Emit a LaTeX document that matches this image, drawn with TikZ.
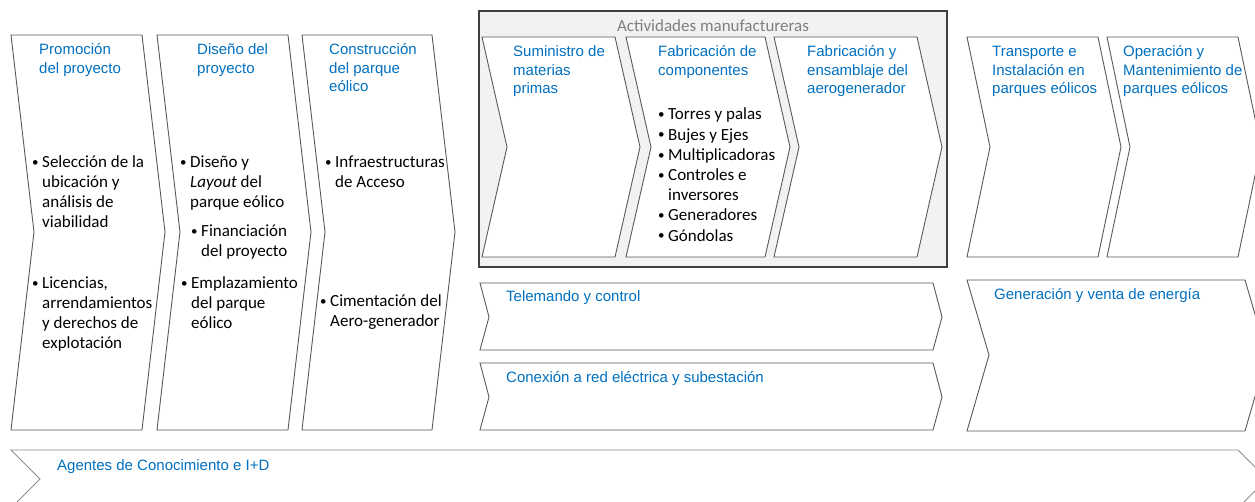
\documentclass[tikz,border=0pt]{standalone}
\usepackage{fontspec}
\newfontfamily\calfont{Carlito}
\newfontfamily\arfont{Liberation Sans}
\definecolor{hblue}{HTML}{0070C0}
\definecolor{lnc}{HTML}{595959}
\definecolor{boxfill}{HTML}{F2F2F2}
\definecolor{boxline}{HTML}{3F3F3F}
\definecolor{ttl}{HTML}{7F7F7F}
\definecolor{barline}{HTML}{8C8C8C}
\newcommand\bu{\llap{\raisebox{1.2pt}{\fontsize{13pt}{13pt}\selectfont\textbullet}\hspace{3.5pt}}}
\newcommand\tl[1]{\begin{tabular}[t]{@{}l@{}}#1\end{tabular}}
\newcommand\mychev[6]{\draw[chev] (#1,#3) -- (#2,#3) -- ({#2+#6},#4) -- (#2,#5) -- (#1,#5) -- ({#1+#6},#4) -- cycle;}
\tikzset{
  chev/.style={draw=lnc, line width=0.9pt, fill=white, line join=miter},
  hd/.style={anchor=base west, inner sep=0pt, text=hblue, font=\arfont\fontsize{15pt}{18.5pt}\selectfont},
  bt/.style={anchor=base west, inner sep=0pt, text=black, font=\calfont\fontsize{17pt}{20pt}\selectfont},
}
\begin{document}
\begin{tikzpicture}[x=1pt,y=-1pt]
\useasboundingbox (0,0) rectangle (1255,502);
\clip (0,0) rectangle (1255,502);
\fill[white] (0,0) rectangle (1255,502);
% left chevrons
\mychev{11}{142}{35}{232}{430}{23}
\mychev{157}{288}{35}{232}{430}{23}
\mychev{302}{432}{35}{232}{430}{23}
% manufacturing box
\draw[draw=boxline, fill=boxfill, line width=1.1pt] (479,11) rectangle (947,267);
\node[anchor=base, inner sep=0pt, text=ttl, font=\calfont\fontsize{17pt}{20pt}\selectfont] (manuf) at (713,32) {Actividades manufactureras};
\mychev{482}{615}{37}{147}{257}{25}
\mychev{626}{765}{37}{147}{257}{25}
\mychev{774}{917}{37}{147}{257}{25}
% right chevrons
\mychev{967}{1098}{37}{147}{257}{23}
\mychev{1107}{1238}{37}{147}{257}{23}
\mychev{967}{1245}{280}{355}{431}{22}
% bars
\mychev{480}{933}{283}{317}{350}{9}
\mychev{480}{933}{363}{397}{430}{9}
\draw[chev, draw=barline] (11,450) -- (1238,450) -- (1267,479) -- (1238,508) -- (11,508) -- (40,479) -- cycle;
% headings
\node[hd] (h1) at (39,55) {\tl{Promoción\\del proyecto}};
\node[hd] (h2) at (197,55) {\tl{Diseño del\\proyecto}};
\node[hd] (h3) at (329,55) {\tl{Construcción\\del parque\\eólico}};
\node[hd] (h4) at (513,57) {\tl{Suministro de\\materias\\primas}};
\node[hd] (h5) at (658,57) {\tl{Fabricación de\\componentes}};
\node[hd] (h6) at (807,57) {\tl{Fabricación y\\ensamblaje del\\aerogenerador}};
\node[hd] (h7) at (992,57) {\tl{Transporte e\\Instalación en\\parques eólicos}};
\node[hd] (h8) at (1123,57) {\tl{Operación y\\Mantenimiento de\\parques eólicos}};
\node[hd] (h9) at (994,300) {Generación y venta de energía};
\node[hd] (h10) at (506,302) {Telemando y control};
\node[hd] (h11) at (506,382) {Conexión a red eléctrica y subestación};
\node[hd] (h12) at (57,470) {Agentes de Conocimiento e I+D};
% bullets
\node[bt] (b1) at (42,168) {\tl{\bu Selección de la\\ubicación y\\análisis de\\viabilidad}};
\node[bt] (b2) at (42,289) {\tl{\bu Licencias,\\arrendamientos\\y derechos de\\explotación}};
\node[bt] (b3) at (190,168) {\tl{\bu Diseño y\\\textit{Layout} del\\parque eólico}};
\node[bt] (b4) at (201,237) {\tl{\bu Financiación\\del proyecto}};
\node[bt] (b5) at (191,289) {\tl{\bu Emplazamiento\\del parque\\eólico}};
\node[bt] (b6) at (335,168) {\tl{\bu Infraestructuras\\de Acceso}};
\node[bt] (b7) at (330,307) {\tl{\bu Cimentación del\\Aero-generador}};
\node[bt, font=\calfont\fontsize{17pt}{20.2pt}\selectfont] (b8) at (668,120) {\tl{\bu Torres y palas\\\bu Bujes y Ejes\\\bu Multiplicadoras\\\bu Controles e\\inversores\\\bu Generadores\\\bu Góndolas}};
\end{tikzpicture}
\end{document}
